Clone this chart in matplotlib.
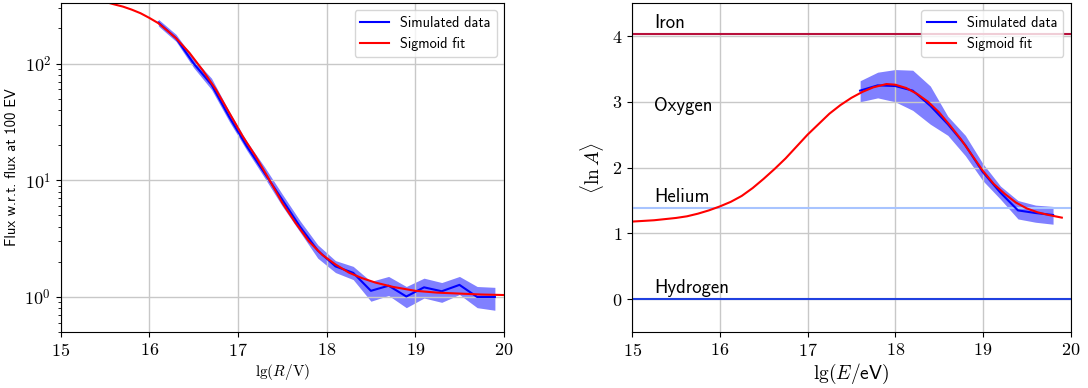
import math
import matplotlib
matplotlib.use('Agg')
import matplotlib.pyplot as plt
from matplotlib.ticker import FuncFormatter, LogLocator

plt.rcParams['mathtext.fontset'] = 'cm'
plt.rcParams['font.family'] = ['cmss10', 'DejaVu Sans']
plt.rcParams['axes.unicode_minus'] = False

# left panel: flux vs rigidity
flux_x = [16.1, 16.3, 16.5, 16.7, 16.9, 17.1, 17.3, 17.5, 17.7, 17.9,
          18.1, 18.3, 18.5, 18.7, 18.9, 19.1, 19.3, 19.5, 19.7, 19.9]
flux_y = [225, 165, 100, 66, 35, 19.5, 11.5, 6.8, 4.0, 2.5,
          1.83, 1.61, 1.13, 1.25, 1.01, 1.21, 1.12, 1.27, 1.0, 1.0]
flux_lo = [210, 155, 92, 60, 32, 18, 10.5, 6.0, 3.6, 2.15,
           1.62, 1.41, 0.92, 1.03, 0.81, 0.98, 0.90, 1.05, 0.81, 0.77]
flux_hi = [240, 178, 110, 75, 39, 21.5, 13, 7.6, 4.5, 2.8,
           2.05, 1.83, 1.36, 1.50, 1.23, 1.45, 1.33, 1.50, 1.23, 1.21]

flux_fit_x = [15.0, 15.25, 15.5, 15.6, 15.7, 15.8, 15.9, 16.0, 16.1, 16.2,
              16.3, 16.45, 16.6, 16.75, 16.9, 17.05, 17.2, 17.35, 17.5, 17.65,
              17.8, 17.95, 18.1, 18.25, 18.4, 18.55, 18.75, 19.0, 19.25, 19.5,
              19.75, 20.0]
flux_fit_y = [420, 385, 338, 322, 308, 290, 270, 246, 222, 192,
              165, 124, 88, 60, 38, 24, 16, 10.2, 6.4, 4.3,
              3.0, 2.3, 1.9, 1.62, 1.45, 1.33, 1.22, 1.13, 1.09, 1.07,
              1.05, 1.04]

# right panel: mean log mass
lna_x = [17.6, 17.8, 18.0, 18.2, 18.4, 18.6, 18.8, 19.0, 19.2, 19.4, 19.6, 19.8]
lna_y = [3.17, 3.25, 3.24, 3.17, 2.94, 2.66, 2.34, 1.93, 1.62, 1.35, 1.31, 1.28]
lna_lo = [3.0, 3.06, 3.0, 2.87, 2.66, 2.49, 2.18, 1.80, 1.52, 1.22, 1.17, 1.14]
lna_hi = [3.32, 3.45, 3.49, 3.48, 3.24, 2.78, 2.49, 2.06, 1.72, 1.50, 1.43, 1.41]

lna_fit_x = [15.0, 15.25, 15.5, 15.625, 15.75, 15.875, 16.0, 16.125, 16.25, 16.375,
             16.5, 16.625, 16.75, 16.875, 17.0, 17.125, 17.25, 17.375, 17.5, 17.625,
             17.75, 17.9, 18.0, 18.125, 18.25, 18.375, 18.5, 18.625, 18.75, 18.875,
             19.0, 19.125, 19.25, 19.375, 19.5, 19.625, 19.75, 19.9]
lna_fit_y = [1.18, 1.20, 1.235, 1.26, 1.30, 1.35, 1.41, 1.48, 1.57, 1.69,
             1.83, 1.98, 2.14, 2.32, 2.50, 2.66, 2.82, 2.95, 3.06, 3.15,
             3.22, 3.27, 3.26, 3.21, 3.12, 3.00, 2.84, 2.64, 2.43, 2.19,
             1.95, 1.75, 1.60, 1.47, 1.38, 1.32, 1.28, 1.24]

elements = ['Hydrogen', 'Helium', 'Oxygen', 'Iron']
element_lna = [0.0, 1.386, 2.773, 4.025]
element_colors = ['#2040e0', '#a8c4ff', 'none', '#b8103c']

fig = plt.figure(figsize=(10.88, 3.88), dpi=100)
ax1 = fig.add_axes([0.056, 0.144, 0.407, 0.848])
ax2 = fig.add_axes([0.581, 0.144, 0.403, 0.848])

int_fmt = FuncFormatter(lambda v, p: r'$%d$' % v)

# left
ax1.fill_between(flux_x, flux_lo, flux_hi, color='#8080ff', lw=0)
ax1.plot(flux_x, flux_y, color='blue', lw=1.5, label='Simulated data')
ax1.plot(flux_fit_x, flux_fit_y, color='red', lw=1.5, label='Sigmoid fit')
ax1.set_yscale('log')
ax1.set_xlim(15, 20)
ax1.set_ylim(0.5, 330)
ax1.yaxis.set_major_locator(LogLocator(base=10))
ax1.yaxis.set_major_formatter(FuncFormatter(lambda v, p: r'$10^{%d}$' % round(math.log10(v))))
ax1.xaxis.set_major_formatter(int_fmt)
ax1.tick_params(labelsize=13)
ax1.grid(True, color='#c8c8c8', lw=1)
ax1.set_xlabel(r'$\mathrm{lg}(R/\mathrm{V})$', fontsize=11, labelpad=2)
ax1.set_ylabel('Flux w.r.t. flux at 100 EV', fontsize=10.5)
ax1.legend(loc='upper right', fontsize=10.3)

# right
for name, val, col in zip(elements, element_lna, element_colors):
    if col != 'none':
        ax2.axhline(val, color=col, lw=1.5)
    ax2.text(15.25, val + 0.03, name, fontsize=13.5, va='bottom')
ax2.fill_between(lna_x, lna_lo, lna_hi, color='#8080ff', lw=0)
ax2.plot(lna_x, lna_y, color='blue', lw=1.5, label='Simulated data')
ax2.plot(lna_fit_x, lna_fit_y, color='red', lw=1.5, label='Sigmoid fit')
ax2.set_xlim(15, 20)
ax2.set_ylim(-0.5, 4.5)
ax2.set_yticks([0, 1, 2, 3, 4])
ax2.xaxis.set_major_formatter(int_fmt)
ax2.yaxis.set_major_formatter(int_fmt)
ax2.tick_params(labelsize=13)
ax2.grid(True, color='#c8c8c8', lw=1)
ax2.set_xlabel(r'$\mathrm{lg}(E/\mathsf{eV})$', fontsize=14, labelpad=2)
ax2.set_ylabel(r'$\langle \ln A\rangle$', fontsize=14)
ax2.legend(loc='upper right', fontsize=10.3)

fig.savefig('out.png', dpi=100)
